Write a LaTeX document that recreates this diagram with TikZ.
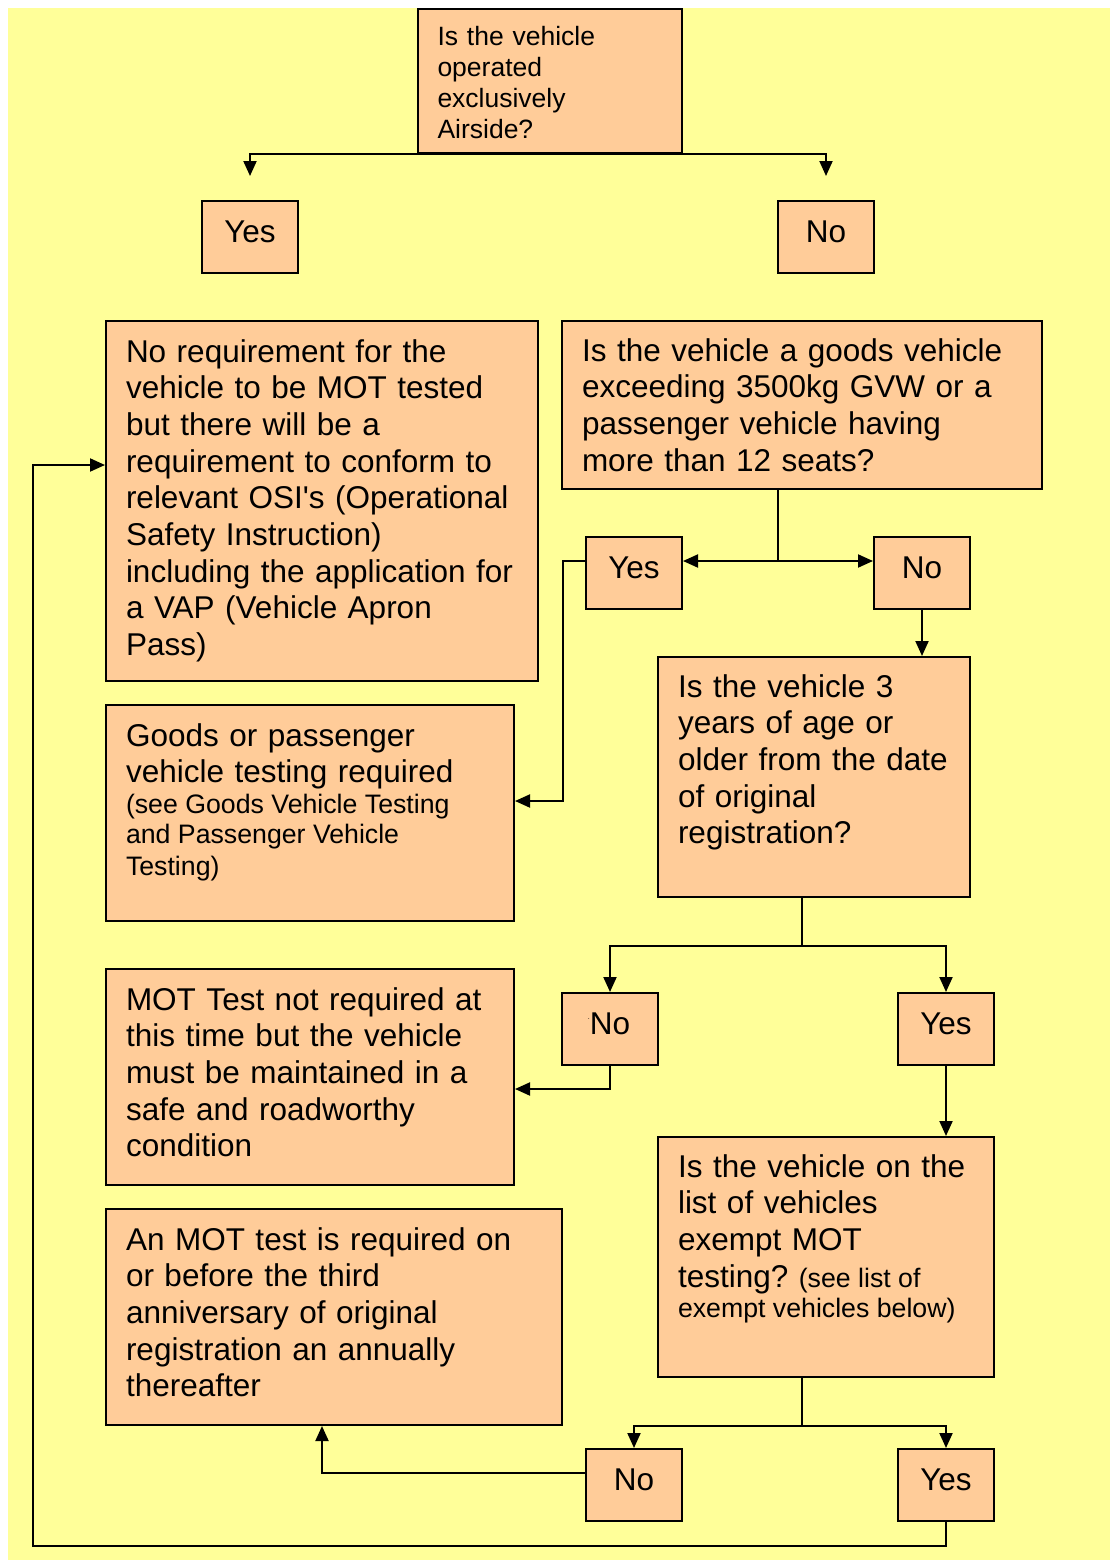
\documentclass[tikz,border=0pt]{standalone}
\usepackage{fontspec}
\setmainfont{Liberation Sans}
\usetikzlibrary{arrows.meta}
\definecolor{bgyellow}{HTML}{FFFF99}
\definecolor{boxfill}{HTML}{FFCC99}
\newcommand\bigfnt{\fontsize{31.5}{36.7}\selectfont\frenchspacing}
\newcommand\sfnt{\fontsize{26.7}{30.5}\selectfont\frenchspacing\spaceskip=0.278em plus 0.1em minus 0.05em\relax}
\newcommand\topfnt{\fontsize{26.5}{30.7}\selectfont}
\tikzset{
  box/.style={draw=black, line width=2pt, fill=boxfill, inner xsep=20pt, inner ysep=0pt,
    align=left, anchor=north west, font=\bigfnt, text height=41pt},
  ans/.style={draw=black, line width=2pt, fill=boxfill, inner sep=0pt, align=center,
    text width=96pt, text height=41pt, text depth=31pt, anchor=north west, font=\bigfnt},
  arr/.style={line width=2pt, -{Triangle[width=13pt,length=15pt]}},
}
\begin{document}
\begin{tikzpicture}[x=1pt,y=-1pt]
\useasboundingbox (0,0) rectangle (1110,1560);
\fill[bgyellow] (8,8) rectangle (1110,1560);

% question 1
\node[box, font=\topfnt, inner xsep=19.5pt, text width=225pt, text height=37pt, text depth=107pt] (q1) at (417,8)
  {\mbox{Is the vehicle}\\ \mbox{operated}\\ \mbox{exclusively}\\ \mbox{Airside?}};
\node[ans] (yes1) at (201,200) {Yes};
\node[ans] (no1) at (777,200) {No};

% box 1
\node[box, text width=392pt, text depth=319pt] (box1) at (105,320)
  {\mbox{No requirement for the}\\ \mbox{vehicle to be MOT tested}\\ \mbox{but there will be a}\\
   \mbox{requirement to conform to}\\ \mbox{relevant OSI\textquotesingle s (Operational}\\ \mbox{Safety Instruction)}\\
   \mbox{including the application for}\\ \mbox{a VAP (Vehicle Apron}\\ \mbox{Pass)}};

% question 2
\node[box, text width=440pt, text height=40pt, text depth=128pt] (q2) at (561,320)
  {\mbox{Is the vehicle a goods vehicle}\\ \mbox{exceeding 3500kg GVW or a}\\
   \mbox{passenger vehicle having}\\ \mbox{more than 12 seats?}};
\node[ans] (yes2) at (585,536) {Yes};
\node[ans] (no2) at (873,536) {No};

% box 2
\node[box, text width=368pt, text depth=175pt] (box2) at (105,704)
  {\mbox{Goods or passenger}\\ \mbox{vehicle testing required}\\[-6pt]
   \mbox{\sfnt (see Goods Vehicle Testing}\\[-6.2pt] \mbox{\sfnt and Passenger Vehicle}\\[-5.4pt]
   \mbox{\sfnt Testing)}};

% question 3
\node[box, text width=272pt, text height=40pt, text depth=200pt] (q3) at (657,656)
  {\mbox{Is the vehicle 3}\\ \mbox{years of age or}\\ \mbox{older from the date}\\
   \mbox{of original}\\ \mbox{registration?}};
\node[ans] (no3) at (561,992) {\llap{\raisebox{15pt}{\fontsize{7}{7}\selectfont.}}No};
\node[ans] (yes3) at (897,992) {Yes};

% box 3
\node[box, text width=368pt, text depth=175pt] (box3) at (105,968)
  {\mbox{MOT Test not required at}\\ \mbox{this time but the vehicle}\\ \mbox{must be maintained in a}\\
   \mbox{safe and roadworthy}\\ \mbox{condition}};

% question 4
\node[box, text width=296pt, text height=40pt, text depth=200pt] (q4) at (657,1136)
  {\mbox{Is the vehicle on the}\\ \mbox{list of vehicles}\\ \mbox{exempt MOT}\\
   \mbox{testing? {\sfnt (see list of}}\\[-6.5pt] \mbox{\sfnt exempt vehicles below)}};
\node[ans] (no4) at (585,1448) {No};
\node[ans] (yes4) at (897,1448) {Yes};

% box 4
\node[box, text width=416pt, text depth=175pt] (box4) at (105,1208)
  {\mbox{An MOT test is required on}\\ \mbox{or before the third}\\ \mbox{anniversary of original}\\
   \mbox{registration an annually}\\ \mbox{thereafter}};

% connectors
\draw[arr] (q1.south) -| ([yshift=24pt]yes1.north);
\draw[arr] (q1.south) -| ([yshift=24pt]no1.north);

\draw[arr] ([xshift=-24pt]q2.south) |- ([yshift=12pt]yes2.east);
\draw[arr] ([xshift=-24pt]q2.south) |- ([yshift=12pt]no2.west);
\draw[arr] ([yshift=12pt]yes2.west) -| ([xshift=48pt,yshift=12pt]box2.east) -- ([yshift=12pt]box2.east);
\draw[arr] (no2.south) -- (no2.south |- q3.north);

\draw[arr] ([xshift=-12pt]q3.south) -- ++(0,48) -| (no3.north);
\draw[arr] ([xshift=-12pt]q3.south) -- ++(0,48) -| (yes3.north);
\draw[arr] (no3.south) |- ([yshift=-12pt]box3.east);
\draw[arr] (yes3.south) -- (yes3.south |- q4.north);

\draw[arr] ([xshift=-24pt]q4.south) -- ++(0,48) -| (no4.north);
\draw[arr] ([xshift=-24pt]q4.south) -- ++(0,48) -| (yes4.north);
\draw[arr] ([yshift=12pt]no4.west) -| ([xshift=-12pt]box4.south);
\draw[arr] (yes4.south) -- ++(0,24) -| ([xshift=-72pt,yshift=36pt]box1.west) -- ([yshift=36pt]box1.west);
\end{tikzpicture}
\end{document}
